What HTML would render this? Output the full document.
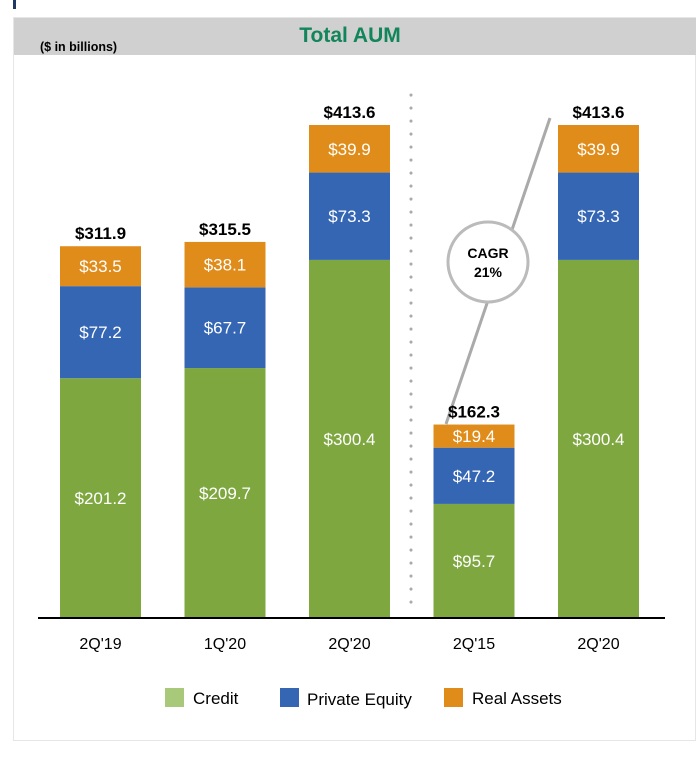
<!DOCTYPE html>
<html><head><meta charset="utf-8"><style>
body{margin:0;background:#fff;width:700px;height:754px;overflow:hidden;font-family:"Liberation Sans",sans-serif}
</style></head><body>
<svg width="700" height="754">
<rect x="0" y="0" width="700" height="754" fill="#fff"/>
<rect x="13" y="0" width="3" height="9" fill="#1f3864"/>
<rect x="13.5" y="17.5" width="682" height="723" fill="#fff" stroke="#e6e6e6"/>
<rect x="14" y="18" width="682" height="37" fill="#d0d0d0"/>
<text x="350" y="42" text-anchor="middle" font-size="21" font-weight="bold" fill="#12865a">Total AUM</text>
<text x="40" y="51" font-size="12.5" font-weight="bold" fill="#000">($ in billions)</text>
<line x1="411" y1="95" x2="411" y2="612" stroke="#aaa" stroke-width="3" stroke-dasharray="0.1 12.9" stroke-linecap="round"/>
<line x1="446" y1="424" x2="550" y2="118" stroke="#aaa" stroke-width="3"/>
<circle cx="488" cy="262" r="40" fill="#fff" stroke="#bbb" stroke-width="3"/>
<text x="488" y="258" text-anchor="middle" font-size="14" font-weight="bold">CAGR</text>
<text x="488" y="277" text-anchor="middle" font-size="14" font-weight="bold">21%</text>
<g id="bars"></g>
<line x1="38" y1="618" x2="665" y2="618" stroke="#000" stroke-width="2"/>
<g font-size="17">
<rect x="165" y="688" width="19" height="19" fill="#a9c97a"/>
<text x="193" y="704">Credit</text>
<rect x="280" y="688" width="19" height="19" fill="#3566b3"/>
<text x="307" y="705">Private Equity</text>
<rect x="444" y="688" width="19" height="19" fill="#e08c1a"/>
<text x="472" y="704">Real Assets</text>
</g>
</svg>
<script>
const categories=["2Q'19","1Q'20","2Q'20","2Q'15","2Q'20"];
const credit=[201.2,209.7,300.4,95.7,300.4];
const privateEquity=[77.2,67.7,73.3,47.2,73.3];
const realAssets=[33.5,38.1,39.9,19.4,39.9];
const totals=[311.9,315.5,413.6,162.3,413.6];
const NS="http://www.w3.org/2000/svg";
const base=618,scale=493/413.6,x0=60,step=124.5,bw=81;
const y=v=>base-v*scale;
const g=document.getElementById('bars');
function mk(t,a){const e=document.createElementNS(NS,t);for(const k in a)e.setAttribute(k,a[k]);g.appendChild(e);return e;}
const series=[[credit,'#7ea740','credit'],[privateEquity,'#3566b3','private-equity'],[realAssets,'#e08c1a','real-assets']];
categories.forEach((c,i)=>{
  const x=x0+i*step;let cum=0;
  series.forEach(([arr,col,nm])=>{
    const v=arr[i];const top=y(cum+v),bot=y(cum);
    const r=mk('rect',{x:x,y:top,width:bw,height:bot-top,fill:col});
    
    
    const t=mk('text',{x:x+bw/2,y:(top+bot)/2+6,'text-anchor':'middle','font-size':'17',fill:'#fff'});
    t.textContent='$'+v.toFixed(1);
    
    
    cum+=v;
  });
  const tt=mk('text',{x:x+bw/2,y:y(totals[i])-7,'text-anchor':'middle','font-size':'17','font-weight':'bold',fill:'#000'});
  tt.textContent='$'+totals[i].toFixed(1);
  
  
  const xl=mk('text',{x:x+bw/2,y:649,'text-anchor':'middle','font-size':'16',fill:'#000'});
  xl.textContent=c;
  
  
});
</script>
</body></html>
